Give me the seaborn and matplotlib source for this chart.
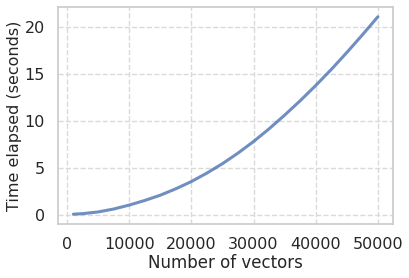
import matplotlib
matplotlib.use("Agg")
import matplotlib.pyplot as plt
import seaborn as sns
import pandas as pd

num_vectors = [1000, 2500, 5000, 7500, 10000, 12500, 15000, 17500, 20000, 22500,
               25000, 27500, 30000, 32500, 35000, 37500, 40000, 42500, 45000,
               47500, 50000]
time_elapsed = [0.08, 0.14, 0.32, 0.63, 1.05, 1.54, 2.10, 2.78, 3.55, 4.45,
                5.45, 6.57, 7.80, 9.15, 10.60, 12.13, 13.75, 15.45, 17.25,
                19.12, 21.05]

sns.set_theme(style="whitegrid", rc={"grid.linestyle": "--",
                                     "grid.color": "#dadada",
                                     "axes.edgecolor": "#cccccc"})
df = pd.DataFrame({"Number of vectors": num_vectors,
                   "Time elapsed (seconds)": time_elapsed})

fig, ax = plt.subplots(figsize=(4.09, 2.78), dpi=100)
sns.lineplot(data=df, x="Number of vectors", y="Time elapsed (seconds)",
             ax=ax, linewidth=2.2, color="#4c72b0", alpha=0.8)
ax.set_xticks([0, 10000, 20000, 30000, 40000, 50000])
ax.set_yticks([0, 5, 10, 15, 20])
ax.tick_params(labelsize=11.5)
ax.set_xlabel("Number of vectors", fontsize=12, labelpad=1.5)
ax.set_ylabel("Time elapsed (seconds)", fontsize=11.5, labelpad=2)
fig.subplots_adjust(left=0.142, right=0.961, top=0.975, bottom=0.194)
fig.savefig("out.png", dpi=100)
